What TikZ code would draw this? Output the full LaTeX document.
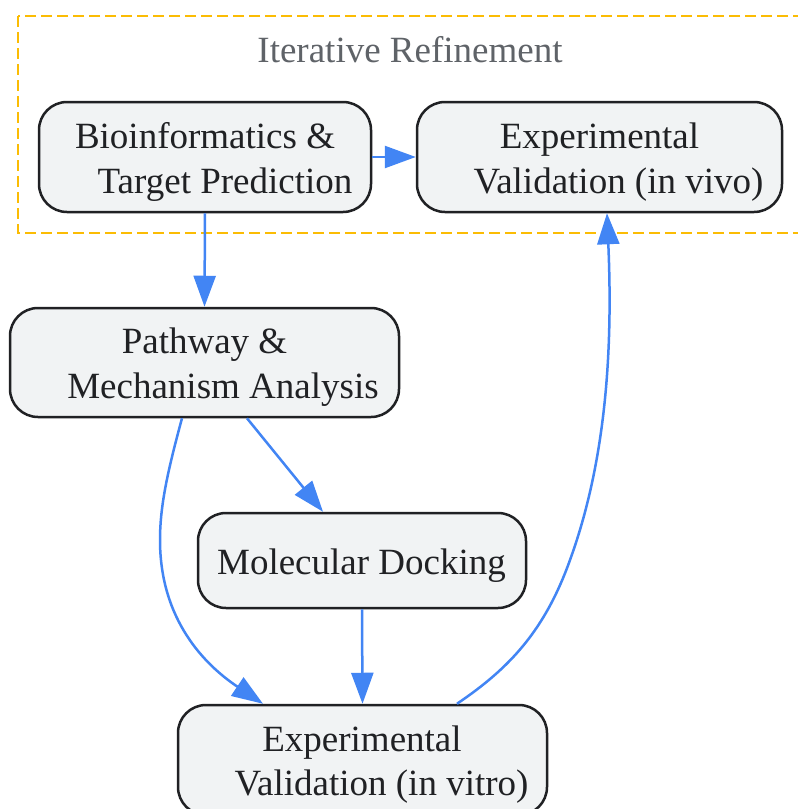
\documentclass[tikz,border=0pt]{standalone}
\usepackage{fontspec}
\setmainfont{Liberation Serif}
\usetikzlibrary{arrows.meta}
\definecolor{edgeblue}{HTML}{4285F4}
\definecolor{gold}{HTML}{FBBC04}
\definecolor{titlegray}{HTML}{5F6368}
\definecolor{boxfill}{HTML}{F1F3F4}
\definecolor{boxline}{HTML}{202124}
\begin{document}
\begin{tikzpicture}[x=1pt,y=-1pt,
  box/.style={draw=boxline, line width=2.5pt, fill=boxfill, rounded corners=28pt, inner sep=0pt},
  lbl/.style={font=\fontsize{37}{45}\selectfont, text=boxline, inner sep=0pt, anchor=base},
  ttl/.style={font=\fontsize{37}{45}\selectfont, text=titlegray, inner sep=0pt, anchor=base},
  group/.style={draw=gold, line width=2.5pt, dash pattern=on 11pt off 5pt},
  edge/.style={draw=edgeblue, line width=2.5pt, -{Triangle[length=31pt,width=22pt]}}]
\useasboundingbox (0,0) rectangle (798,809);
\clip (0,0) rectangle (798,809);
\fill[white] (0,0) rectangle (798,809);
% group
\draw[group] (18,16) rectangle (802,233);
\node[ttl] (title) at (410,62) {Iterative Refinement};
% boxes
\node[box, minimum width=332pt, minimum height=110pt] (n1) at (205,157) {};
\node[box, minimum width=365pt, minimum height=110pt] (n2) at (599.5,157) {};
\node[box, minimum width=389pt, minimum height=109pt] (n3) at (204.5,362.5) {};
\node[box, minimum width=328pt, minimum height=95pt] (n4) at (362,560.5) {};
\node[box, minimum width=369pt, minimum height=110pt] (n5) at (362.5,760) {};
% labels
\node[lbl] (t1a) at (205,148) {Bioinformatics \&};
\node[lbl] (t1b) at (225,193) {Target Prediction};
\node[lbl] (t2a) at (599.5,148) {Experimental};
\node[lbl] (t2b) at (618.5,193) {Validation (in vivo)};
\node[lbl] (t3a) at (204.5,353) {Pathway \&};
\node[lbl] (t3b) at (223,398) {Mechanism Analysis};
\node[lbl] (t4) at (361.5,574) {Molecular Docking};
\node[lbl] (t5a) at (362,751.5) {Experimental};
\node[lbl] (t5b) at (381.5,795.5) {Validation (in vitro)};
% edges
\draw[edge] (n1.east) -- (n2.west);
\draw[edge] (n1.south) -- (n3.north);
\draw[edge] ([xshift=42.5pt]n3.south) -- ([xshift=-39pt]n4.north);
\draw[edge] (n4.south) -- (n5.north);
\draw[edge] ([xshift=-22.5pt]n3.south) .. controls (168,470) and (160,505) .. (160,540)
  .. controls (160,620) and (205,665) .. ([xshift=-99.5pt]n5.north);
\draw[edge] ([xshift=94.5pt]n5.north) .. controls (510,668) and (545,630) .. (570,560)
  .. controls (610,450) and (612,330) .. ([xshift=7.5pt]n2.south);
\end{tikzpicture}
\end{document}
